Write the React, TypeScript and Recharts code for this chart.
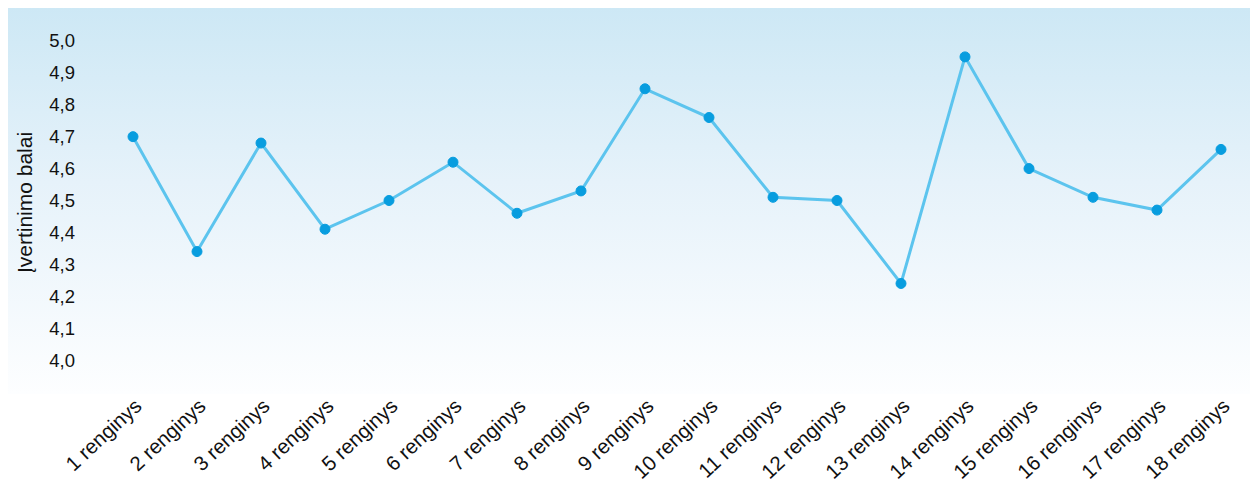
import React from "react";
import { LineChart, Line, XAxis, YAxis, Label } from "recharts";

const categories = [
  "1 renginys", "2 renginys", "3 renginys", "4 renginys", "5 renginys", "6 renginys",
  "7 renginys", "8 renginys", "9 renginys", "10 renginys", "11 renginys", "12 renginys",
  "13 renginys", "14 renginys", "15 renginys", "16 renginys", "17 renginys", "18 renginys",
];
const scores = [4.70, 4.34, 4.68, 4.41, 4.50, 4.62, 4.46, 4.53, 4.85, 4.76, 4.51, 4.50, 4.24, 4.95, 4.60, 4.51, 4.47, 4.66];
const yTicks = [4.0, 4.1, 4.2, 4.3, 4.4, 4.5, 4.6, 4.7, 4.8, 4.9, 5.0];
const yAxisTitle = "Įvertinimo balai";

const data = categories.map((name, i) => ({ name, value: scores[i] }));

const FONT = '"Liberation Sans", Arial, Helvetica, sans-serif';

export default function App() {
  return (
    <div style={{ position: "relative", width: 1250, height: 474, fontFamily: FONT }}>
      <div
        style={{
          position: "absolute",
          left: 0,
          top: 0,
          width: 1250,
          height: 386,
          background: "linear-gradient(to bottom, #cde8f5 0%, #e6f2fa 45%, #fdfeff 100%)",
        }}
      />
      <div style={{ position: "absolute", left: 0, top: 0 }}>
        <LineChart width={1250} height={474} data={data} margin={{ top: 1, right: 0, bottom: 0, left: 0 }}>
          <XAxis
            dataKey="name"
            interval={0}
            axisLine={false}
            tickLine={false}
            padding={{ left: 46, right: 37 }}
            height={90}
            tickMargin={-1}
            tick={{ angle: -43, textAnchor: "end", fontSize: 20.5, fill: "#111", fontFamily: FONT }}
          />
          <YAxis
            domain={[3.9, 5.1]}
            ticks={yTicks}
            width={79}
            tickMargin={6}
            axisLine={false}
            tickLine={false}
            tickFormatter={(v: number) => v.toFixed(1).replace(".", ",")}
            tick={{ fontSize: 18.5, fill: "#111", fontFamily: FONT }}
          >
            <Label
              content={(props: any) => {
                const vb = props.viewBox || {};
                const cx = 24;
                const cy = (vb.y ?? 0) + (vb.height ?? 0) / 2 + 2;
                return (
                  <text
                    x={cx}
                    y={cy}
                    transform={`rotate(-90, ${cx}, ${cy})`}
                    textAnchor="middle"
                    fontSize={21}
                    fill="#111"
                    fontFamily={FONT}
                  >
                    {yAxisTitle}
                  </text>
                );
              }}
            />
          </YAxis>
          <Line
            type="linear"
            dataKey="value"
            stroke="#5cc4ee"
            strokeWidth={3}
            dot={{ r: 5, fill: "#089ddf", stroke: "#089ddf", strokeWidth: 1 }}
            activeDot={false}
            isAnimationActive={false}
          />
        </LineChart>
      </div>
    </div>
  );
}
